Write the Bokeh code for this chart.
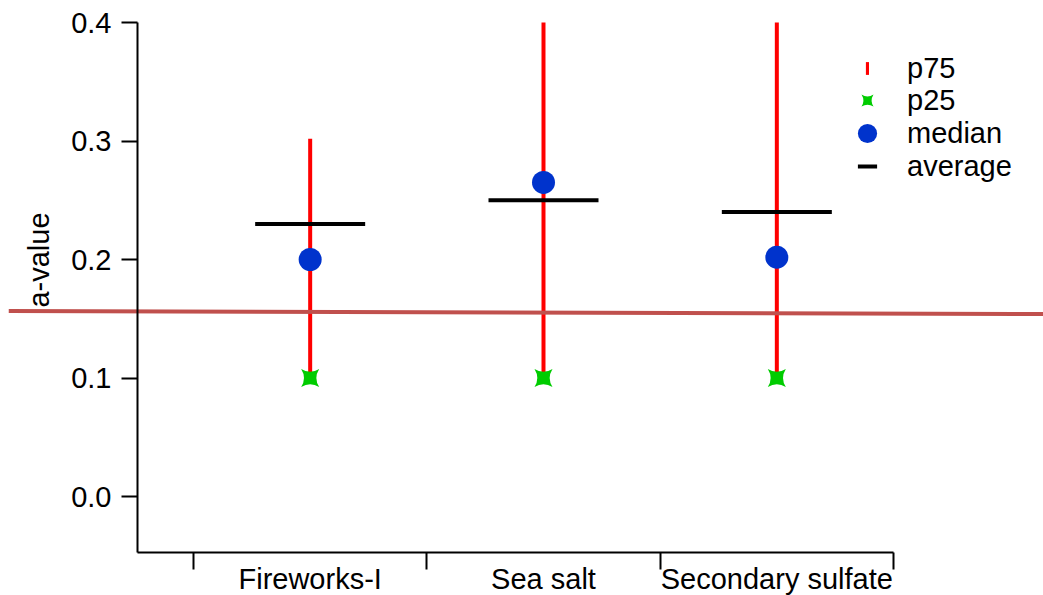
import math
from bokeh.plotting import figure
from bokeh.models import (Range1d, FixedTicker, Legend, LegendItem, Label,
                          ColumnDataSource, LinearAxis)
from bokeh.embed import file_html
from bokeh.resources import INLINE

# ---- data ----
categories = ["Fireworks-I", "Sea salt", "Secondary sulfate"]
cat_x = [1, 2, 3]
p75 = [0.302, 0.4, 0.4]
p25 = [0.1, 0.1, 0.1]
median = [0.2, 0.265, 0.202]
average = [0.23, 0.25, 0.24]
y_ticks = [0.0, 0.1, 0.2, 0.3, 0.4]
y_tick_labels = ["0.0", "0.1", "0.2", "0.3", "0.4"]
threshold_x = [-0.293, 4.143]
threshold_y = [0.1566, 0.1540]

FONT = "Liberation Sans"
FS = "29px"

# axis extents (data units)
Y_AXIS_LO, Y_AXIS_HI = -0.0473, 0.4
X_AXIS_LO, X_AXIS_HI = 0.26, 3.5001
PX_PER_X = 233.33

src = ColumnDataSource(dict(x=cat_x, p75=p75, p25=p25, median=median, average=average))

FRAME_BOTTOM = 595
p = figure(width=1043, height=595, output_backend="svg", toolbar_location=None,
           x_range=Range1d(-0.2929, 4.1429), y_range=Range1d(-0.08354, 0.41857),
           x_axis_type=None, y_axis_type=None,
           min_border_left=8, min_border_right=0, min_border_top=0, min_border_bottom=0)
p.outline_line_color = None
p.background_fill_color = "white"
p.border_fill_color = "white"

# axes
yax = LinearAxis(ticker=FixedTicker(ticks=y_ticks, minor_ticks=[]),
                 major_label_overrides={t: l for t, l in zip(y_ticks, y_tick_labels)},
                 fixed_location=X_AXIS_LO, bounds=(Y_AXIS_LO, Y_AXIS_HI))
yax.major_tick_out = 16
yax.major_tick_in = 0
yax.major_label_standoff = 10
yax.axis_line_width = 2
yax.major_tick_line_width = 2
yax.major_label_text_font = FONT
yax.major_label_text_font_size = FS
yax.major_label_text_color = "black"
p.add_layout(yax, "left")

xax = LinearAxis(ticker=FixedTicker(ticks=cat_x, minor_ticks=[0.5, 1.5, 2.5, 3.5]),
                 major_label_overrides={x: c for x, c in zip(cat_x, categories)},
                 fixed_location=Y_AXIS_LO, bounds=(X_AXIS_LO, X_AXIS_HI))
xax.major_tick_out = 0
xax.major_tick_in = 0
xax.minor_tick_out = 17
xax.minor_tick_in = 0
xax.minor_tick_line_width = 2
xax.minor_tick_line_color = "black"
xax.axis_line_width = 2
xax.major_label_standoff = -7
xax.major_label_text_font = FONT
xax.major_label_text_font_size = FS
xax.major_label_text_color = "black"
p.add_layout(xax, "below")

p.xgrid.visible = False
p.ygrid.visible = False

# glyphs
r75 = p.vbar(x="x", bottom="p25", top="p75", width=4 / PX_PER_X, source=src,
             fill_color="#ff0000", line_color=None)
r_avg = p.scatter(x="x", y="average", source=src, marker="dash", size=110,
                  line_color="black", line_width=4)
r_med = p.scatter(x="x", y="median", source=src, marker="circle", size=23,
                  fill_color="#0033cc", line_color=None)
r25 = p.scatter(x="x", y="p25", source=src, marker="square_pin", size=18,
                fill_color="#00cc00", line_color=None)
p.line(threshold_x, threshold_y, line_color="#c0504d", line_width=4)

# y label
p.add_layout(Label(x=30, y=FRAME_BOTTOM - 259.5, x_units="screen", y_units="screen",
                   text="a-value", angle=math.pi / 2, text_align="center",
                   text_baseline="middle", text_font=FONT, text_font_size=FS,
                   text_color="black"))

# legends (one per entry to control glyph sizes)
def add_leg(label, rend, gw, gh, center_y, h):
    top = center_y - h / 2
    vy = FRAME_BOTTOM - top - h
    vx = 867 - gw / 2 - 8
    leg = Legend(items=[LegendItem(label=label, renderers=[rend])],
                 location=(vx, vy), glyph_width=int(round(gw)), glyph_height=int(round(gh)),
                 label_standoff=int(round(40 - gw / 2)), padding=0, margin=0, spacing=0,
                 border_line_color=None, background_fill_alpha=0,
                 label_text_font=FONT, label_text_font_size=FS,
                 label_text_color="black", label_height=int(round(gh)))
    p.add_layout(leg)

add_leg("p75", r75, 4, 16, 68, 33)
add_leg("p25", r25, 30, 30, 100, 33)
add_leg("median", r_med, 48, 48, 133, 48)
add_leg("average", r_avg, 48, 48, 166, 48)

open("out.html", "w").write(file_html(p, INLINE))
